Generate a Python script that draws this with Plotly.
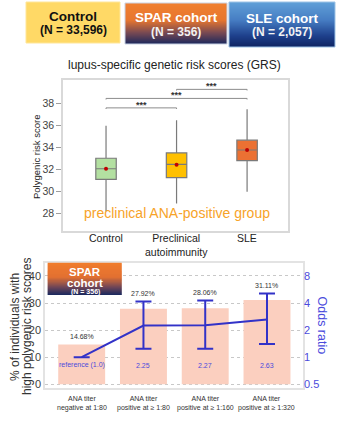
import math
import plotly.graph_objects as go

W, H = 340, 430
FONT = "Liberation Sans, Arial, sans-serif"

# ---- cohort header boxes ----
cohort_titles = ["Control", "SPAR cohort", "SLE cohort"]
cohort_sizes = ["(N = 33,596)", "(N = 356)", "(N = 2,057)"]

# ---- panel 1: lupus-specific GRS by group ----
grs_groups = ["Control", "Preclinical<br>autoimmunity", "SLE"]
grs_q1 = [31.09, 31.24, 32.78]
grs_median = [32.05, 32.45, 33.75]
grs_q3 = [33.00, 33.48, 34.64]
grs_lower = [28.20, 28.90, 29.97]
grs_upper = [35.94, 36.45, 37.45]
grs_mean = [32.05, 32.42, 33.75]
grs_colors = ["#B3E0A1", "#FFC000", "#EB7133"]
grs_ticks = [28, 30, 32, 34, 36, 38]

sig_pairs = [(0, 1), (0, 2), (1, 2)]
sig_heights = [37.57, 38.43, 39.25]
sig_labels = ["***", "***", "***"]

# ---- panel 2: high-GRS share and odds ratio by ANA titer ----
titer_groups = [
    "ANA titer<br>negative at 1:80",
    "ANA titer<br>positive at ≥ 1:80",
    "ANA titer<br>positive at ≥ 1:160",
    "ANA titer<br>positive at ≥ 1:320",
]
high_grs_pct = [14.68, 27.92, 28.06, 31.11]
odds_ratio = [1.0, 2.25, 2.27, 2.63]
or_ci_low = [1.0, 1.24, 1.24, 1.40]
or_ci_high = [1.0, 4.17, 4.27, 5.12]
or_labels = ["reference (1.0)", "2.25", "2.27", "2.63"]
pct_ticks = [0, 10, 20, 30, 40]
or_ticks = [0.5, 1, 2, 4, 8]

BLUE = "#3232C8"
BLUE_TXT = "#4B4BDC"


def px_x(x):
    return x / W


def px_y(y):
    return 1 - y / H


def mix(stops, t):
    for (p0, c0), (p1, c1) in zip(stops, stops[1:]):
        if t <= p1:
            f = (t - p0) / (p1 - p0) if p1 > p0 else 0
            return "rgb(%d,%d,%d)" % tuple(round(a + (b - a) * f) for a, b in zip(c0, c1))
    return "rgb(%d,%d,%d)" % stops[-1][1]


shapes = []
annotations = []


def gradient_box(x0, y0, x1, y1, stops, outline=None):
    n = int(round(y1 - y0))
    for k in range(n):
        t = (k + 0.5) / n
        ya = y0 + k * (y1 - y0) / n
        yb = min(y0 + (k + 1) * (y1 - y0) / n + 0.6, y1)
        shapes.append(dict(type="rect", xref="paper", yref="paper",
                           x0=px_x(x0), x1=px_x(x1), y0=px_y(yb), y1=px_y(ya),
                           fillcolor=mix(stops, t), line_width=0, layer="above"))
    if outline:
        shapes.append(dict(type="rect", xref="paper", yref="paper",
                           x0=px_x(x0), x1=px_x(x1), y0=px_y(y1), y1=px_y(y0),
                           line=dict(color=outline, width=1), layer="above"))


def text(x, y, s, size, color, angle=0, bold=False):
    annotations.append(dict(xref="paper", yref="paper", x=px_x(x), y=px_y(y),
                            text=f"<b>{s}</b>" if bold else s, showarrow=False,
                            xanchor="center", yanchor="middle", textangle=angle,
                            font=dict(family=FONT, size=size, color=color)))


def category_labels(xref, labels, y_top, size, color):
    # category labels hung just below the axis line
    for i, lab in enumerate(labels):
        annotations.append(dict(xref=xref, yref="paper", x=i, y=px_y(y_top),
                                text=lab, showarrow=False, xanchor="center",
                                yanchor="top", borderpad=0,
                                font=dict(family=FONT, size=size, color=color)))


# header boxes
shapes.append(dict(type="rect", xref="paper", yref="paper", x0=px_x(26), x1=px_x(120),
                   y0=px_y(43), y1=px_y(2), fillcolor="#FFD966",
                   line=dict(color="#FFE699", width=1), layer="above"))
spar_stops = [(0, (240, 128, 48)), (0.42, (231, 118, 46)), (0.72, (122, 74, 82)), (1, (28, 40, 92))]
sle_stops = [(0, (96, 160, 216)), (0.4, (70, 125, 195)), (0.75, (30, 64, 140)), (1, (14, 36, 98))]
gradient_box(125, 3, 227, 44, spar_stops, outline="#C9D2E3")
gradient_box(229, 2, 335, 47, sle_stops, outline="#9DC3E6")

text(73, 16, cohort_titles[0], 13.5, "#111111", bold=True)
text(73, 30, cohort_sizes[0], 12, "#111111", bold=True)
text(176, 18, cohort_titles[1], 13.5, "#FFFFFF", bold=True)
text(176, 32, cohort_sizes[1], 12, "#F2F2F2", bold=True)
text(282, 18.5, cohort_titles[2], 13.5, "#FFFFFF", bold=True)
text(282, 32, cohort_sizes[2], 12, "#F2F2F2", bold=True)

# bottom panel cohort badge
badge_stops = [(0, (240, 125, 45)), (0.45, (226, 112, 50)), (0.75, (112, 70, 86)), (1, (25, 40, 95))]
gradient_box(47.7, 262.7, 121.7, 295, badge_stops)
text(85, 271.5, "SPAR", 11.5, "#FFFFFF", bold=True)
text(85, 282.5, "cohort", 11.5, "#FFFFFF", bold=True)
text(85, 291.5, "(N = 356)", 7, "#FFFFFF", bold=True)

fig = go.Figure()

# panel 1 boxes
for i in range(len(grs_groups)):
    fig.add_trace(go.Box(
        x=[i], q1=[grs_q1[i]], median=[grs_median[i]], q3=[grs_q3[i]],
        lowerfence=[grs_lower[i]], upperfence=[grs_upper[i]],
        width=0.29, whiskerwidth=0, fillcolor=grs_colors[i],
        line=dict(color="#7A7A7A", width=1.2), boxpoints=False,
        hoverinfo="skip", showlegend=False, xaxis="x", yaxis="y"))
fig.add_trace(go.Scatter(
    x=list(range(len(grs_groups))), y=grs_mean, mode="markers",
    marker=dict(color="#C00000", size=4), showlegend=False, hoverinfo="skip",
    xaxis="x", yaxis="y"))

# significance brackets
for (a, b), h, lab in zip(sig_pairs, sig_heights, sig_labels):
    shapes.append(dict(type="path", xref="x", yref="y",
                       path=f"M {a},{h - 0.1} L {a},{h} L {b},{h} L {b},{h - 0.1}",
                       line=dict(color="#8C8C8C", width=1)))
    annotations.append(dict(xref="x", yref="y", x=(a + b) / 2, y=h, text="<b>" + lab + "</b>",
                            showarrow=False, yanchor="bottom", yshift=-4,
                            font=dict(family=FONT, size=9, color="#333333")))

annotations.append(dict(xref="x", yref="y", x=1, y=28.05, text="preclinical ANA-positive group",
                        showarrow=False, font=dict(family=FONT, size=14, color="#F7A328")))

category_labels("x", grs_groups, 230.5, 10.5, "#222222")

text(175, 65, "lupus-specific genetic risk scores (GRS)", 12, "#222222")
text(36, 157, "Polygenic risk score", 9.5, "#222222", angle=-90)

# panel 2 bars and odds ratios
fig.add_trace(go.Bar(
    x=list(range(len(titer_groups))), y=high_grs_pct, width=0.76,
    marker=dict(color="#FBCFBF", line_width=0), showlegend=False,
    hoverinfo="skip", xaxis="x2", yaxis="y2"))
fig.add_trace(go.Scatter(
    x=list(range(len(titer_groups))), y=odds_ratio, mode="lines",
    line=dict(color=BLUE, width=2),
    error_y=dict(type="data", symmetric=False,
                 array=[h - o for h, o in zip(or_ci_high, odds_ratio)],
                 arrayminus=[o - l for o, l in zip(odds_ratio, or_ci_low)],
                 width=8, thickness=2, color=BLUE),
    showlegend=False, hoverinfo="skip", xaxis="x2", yaxis="y3"))

# the two y axes are aligned so that pct = 10 * log2(OR / 0.5)
for i, p in enumerate(high_grs_pct):
    top = max(p, 10 * math.log2(or_ci_high[i] / 0.5))
    annotations.append(dict(xref="x2", yref="y2", x=i, y=top, text=f"{p:.2f}%",
                            showarrow=False, yanchor="bottom", yshift=2,
                            font=dict(family=FONT, size=7, color="#333333")))
    annotations.append(dict(xref="x2", yref="y2", x=i, y=7, text=or_labels[i],
                            showarrow=False,
                            font=dict(family=FONT, size=7, color=BLUE_TXT)))

category_labels("x2", titer_groups, 393.5, 7, "#333333")

text(15, 327, "% of individuals with", 12, "#333333", angle=-90)
text(27, 327, "high polygenic risk scores", 12, "#333333", angle=-90)
text(321.5, 325, "Odds ratio", 12.5, BLUE_TXT, angle=90)

log_lo = math.log10(0.5) + (-1.4 / 10) * math.log10(2)
log_hi = math.log10(0.5) + (44.9 / 10) * math.log10(2)

fig.update_layout(
    width=W, height=H, autosize=False,
    margin=dict(l=0, r=0, t=0, b=0, pad=0),
    paper_bgcolor="white", plot_bgcolor="white",
    font=dict(family=FONT),
    shapes=shapes, annotations=annotations,
    xaxis=dict(domain=[px_x(63), px_x(288)], range=[-0.61, 2.58], anchor="y",
               tickvals=list(range(len(grs_groups))), showticklabels=False,
               showline=True, mirror=True, linecolor="#D9D9D9", linewidth=1.5,
               showgrid=False, zeroline=False, ticks="", automargin=False),
    yaxis=dict(domain=[px_y(231), px_y(80)], range=[26.4, 40.1], anchor="x",
               tickvals=grs_ticks, ticks="outside", ticklen=5, tickcolor="#9E9E9E",
               showline=True, mirror=True, linecolor="#D9D9D9", linewidth=1.5,
               showgrid=False, zeroline=False, automargin=False,
               tickfont=dict(size=10.5, color="#444444")),
    xaxis2=dict(domain=[px_x(45), px_x(303)], range=[-0.594, 3.583], anchor="y2",
                tickvals=list(range(len(titer_groups))), showticklabels=False,
                showline=True, mirror=True, linecolor="#E3E3E3", linewidth=1.5,
                showgrid=False, zeroline=False, ticks="", automargin=False),
    yaxis2=dict(domain=[px_y(388), px_y(262.7)], range=[-1.4, 44.9], anchor="x2",
                tickvals=pct_ticks, showgrid=True, gridcolor="#C8C8C8", griddash="dot",
                gridwidth=1, showline=True, mirror=True, linecolor="#E3E3E3",
                linewidth=1.5, zeroline=False, ticks="", automargin=False,
                tickfont=dict(size=11, color="#404040")),
    yaxis3=dict(overlaying="y2", side="right", anchor="x2", type="log",
                range=[log_lo, log_hi], tickvals=or_ticks,
                ticktext=[str(v) for v in or_ticks], showgrid=False, zeroline=False,
                showline=False, ticks="", automargin=False,
                tickfont=dict(size=11, color=BLUE_TXT)),
)

fig.write_html("out.html")
